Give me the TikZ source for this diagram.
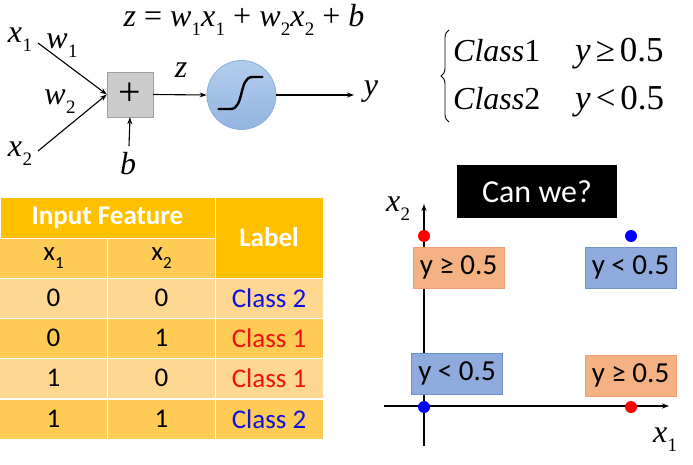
\documentclass[tikz,border=0pt]{standalone}
\usepackage{fontspec}
\setmainfont{Liberation Serif}
\newfontfamily\calib{Carlito}
\usetikzlibrary{arrows.meta,decorations.pathreplacing}
\definecolor{hdr}{HTML}{FFC000}
\definecolor{rowdark}{HTML}{FECB55}
\definecolor{rowlight}{HTML}{FED891}
\definecolor{sigtop}{HTML}{B3CDEC}
\definecolor{sigbot}{HTML}{93B5E1}
\definecolor{sigdraw}{HTML}{8AAEDC}
\definecolor{orfill}{HTML}{F4B183}
\definecolor{ordraw}{HTML}{F0A070}
\definecolor{blfill}{HTML}{8FAADC}
\definecolor{bldraw}{HTML}{6F8FCF}
\definecolor{clsblue}{HTML}{1010E0}
\definecolor{clsred}{HTML}{F01010}
\newcommand\vsub[2]{\textit{#1}\kern0.3pt\raisebox{-0.28em}{\fontsize{19}{19}\selectfont #2}}
\newcommand\csub[2]{#1\raisebox{-0.3em}{\fontsize{17}{17}\selectfont #2}}
\begin{document}
\begin{tikzpicture}[x=1pt,y=-1pt,
  lbl/.style={inner sep=0pt,font=\fontsize{32}{34}\selectfont},
  arr/.style={-{Stealth[length=7pt,width=5pt]},line width=1.1pt},
  cell/.style={draw=white,line width=0.8pt,minimum width=108pt,inner sep=0pt,font=\calib\fontsize{27}{29}\selectfont},
  plotbox/.style={minimum width=91pt,minimum height=41pt,inner sep=0pt,font=\calib\fontsize{29}{31}\selectfont,line width=0.6pt},
  dot/.style={circle,inner sep=0pt,minimum size=12pt}]
\useasboundingbox (0,0) rectangle (693,465);
% ---- neuron ----
\node[lbl] (eq) at (244,20) {\textit{z} = \vsub{w}{1}\vsub{x}{1} + \vsub{w}{2}\vsub{x}{2} + \textit{b}};
\node[lbl] (x1) at (20,40) {\vsub{x}{1}};
\node[lbl] (w1) at (62,46) {\vsub{w}{1}};
\node[lbl] (w2) at (60,102) {\vsub{w}{2}};
\node[lbl] (x2) at (20,154) {\vsub{x}{2}};
\node[draw=gray!75,fill=gray!40,minimum width=46pt,minimum height=45pt,inner sep=0pt,font=\fontsize{40}{40}\selectfont] (sum) at (130,94.5) {+};
\node[lbl] (b) at (128,164) {\textit{b}};
\node[lbl] (zl) at (181,70) {\textit{z}};
\node[circle,draw=sigdraw,line width=0.8pt,top color=sigtop,bottom color=sigbot,minimum size=69pt,inner sep=0pt] (sig) at (241.5,95) {};
\node[lbl] (yl) at (371,92) {\textit{y}};
\coordinate (x1e) at (38,43);
\coordinate (x2e) at (38,151);
\coordinate (bs) at (129,146);
\coordinate (ye) at (354,95);
\draw[arr] (x1e) -- (sum.west);
\draw[arr] (x2e) -- (sum.west);
\draw[arr] (bs) -- (sum.south);
\draw[arr] (sum.east) -- (sig.west);
\draw[arr] (sig.east) -- (ye);
\draw[line width=2.4pt,line cap=round] ([xshift=-23pt,yshift=-14pt]sig.center) -- ([xshift=-11pt,yshift=-14pt]sig.center) .. controls ([xshift=3pt,yshift=-14pt]sig.center) and ([xshift=-3pt,yshift=18pt]sig.center) .. ([xshift=11pt,yshift=18pt]sig.center) -- ([xshift=21pt,yshift=18pt]sig.center);
% ---- class rule ----
\coordinate (brb) at (449,122);
\coordinate (brt) at (449,30);
\draw[line width=0.9pt,decorate,decoration={brace,amplitude=8pt,aspect=0.5}] (brb) -- (brt);
\node[lbl,anchor=base west] (c1) at (453,62) {\textit{Class}1};
\node[lbl,anchor=base west] (c2) at (453,110) {\textit{Class}2};
\node[lbl,anchor=base west,font=\fontsize{35}{37}\selectfont] (r1) at (575,62) {\textit{y}\kern5pt≥\kern5pt0.5};
\node[lbl,anchor=base west,font=\fontsize{35}{37}\selectfont] (r2) at (575,110) {\textit{y}\kern5pt<\kern5pt0.5};
% ---- table ----
\node[cell,fill=hdr,minimum width=215pt,minimum height=41pt,font=\calib\bfseries\fontsize{27}{29}\selectfont,text=white] (hin) at (107.5,217.5) {Input Feature};
\node[cell,fill=hdr,minimum width=108pt,minimum height=81pt,font=\calib\bfseries\fontsize{27}{29}\selectfont,text=white] (hlab) at (269,237.5) {Label};
\node[cell,fill=rowdark,minimum height=40pt] (hx1) at (53.5,258) {\csub{x}{1}};
\node[cell,fill=rowdark,minimum height=40pt] (hx2) at (161.5,258) {\csub{x}{2}};
\foreach \r/\a/\b/\c/\cc/\f/\yy in {1/0/0/Class 2/clsblue/rowlight/298,2/0/1/Class 1/clsred/rowdark/338,3/1/0/Class 1/clsred/rowlight/378,4/1/1/Class 2/clsblue/rowdark/419}{
  \node[cell,fill=\f,minimum height=40pt] (ra\r) at (53.5,\yy) {\a};
  \node[cell,fill=\f,minimum height=40pt] (rb\r) at (161.5,\yy) {\b};
  \node[cell,fill=\f,minimum height=40pt,text=\cc] (rc\r) at (269,\yy) {\c};
}
% ---- plot ----
\node[fill=black,text=white,minimum width=160pt,minimum height=53pt,inner sep=0pt,font=\calib\fontsize{32}{34}\selectfont] (can) at (537,191.5) {Can we?};
\coordinate (vb) at (424,446);
\coordinate (vt) at (424,204);
\coordinate (hl) at (384,406);
\coordinate (hr) at (669,406);
\draw[arr,line width=1.4pt] (vb) -- (vt);
\draw[arr,line width=1.4pt] (hl) -- (hr);
\node[lbl] (ax2) at (398,209) {\vsub{x}{2}};
\node[lbl] (ax1) at (665,440) {\vsub{x}{1}};
\node[plotbox,fill=orfill,draw=ordraw] (b1) at (458.5,267.5) {y ≥ 0.5};
\node[plotbox,fill=blfill,draw=bldraw] (b2) at (630.5,267.5) {y < 0.5};
\node[plotbox,fill=blfill,draw=bldraw] (b3) at (457,373.5) {y < 0.5};
\node[plotbox,fill=orfill,draw=ordraw] (b4) at (630.5,375.5) {y ≥ 0.5};
\node[dot,fill=red] (p1) at (424,236) {};
\node[dot,fill=blue] (p2) at (631,236) {};
\node[dot,fill=blue] (p3) at (424,407) {};
\node[dot,fill=red] (p4) at (631,407) {};
\end{tikzpicture}
\end{document}
